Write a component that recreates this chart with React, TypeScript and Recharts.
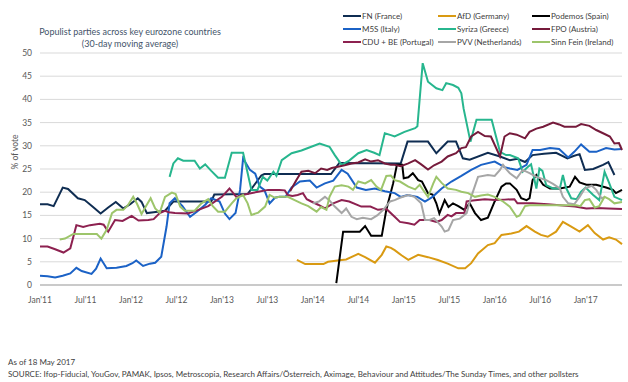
import React from 'react';
import { LineChart, Line, XAxis, YAxis, CartesianGrid } from 'recharts';

type P = [number, number];

// x = months since Jan 2011, y = % of vote
const fnFrance: P[] = [[0,17.4],[1,17.4],[1.8,17],[3,21],[3.7,20.7],[5,18.7],[5.9,18.3],[7,16.8],[8,15.4],[9,16.7],[10,17.9],[11,16.5],[11.9,17.4],[12.9,18.7],[13.4,17.9],[14.1,15.5],[15,15.7],[16.5,16],[17.6,18],[22.6,18],[23,19.5],[27.4,19.6],[29.2,23.6],[29.6,23.9],[38.4,23.9],[39.5,26.3],[47.6,26.2],[48.5,30.9],[51.2,30.9],[52.3,28.4],[53.8,30.9],[54.9,30.9],[55.8,27.3],[56.7,27],[59.1,28.5],[60.7,27.7],[62,26.9],[63,27.2],[64,26.5],[65,28],[66.5,28.3],[68.1,28.5],[69.6,27.3],[70.4,27.8],[71.2,28.2],[71.9,24.8],[73,25],[74.3,25.9],[75,26.5],[75.8,23.7]];
const afdGermany: P[] = [[33.9,5.4],[35,4.5],[37.4,4.5],[38,5],[39.8,5.4],[40.4,5.5],[42,6.7],[42.9,6],[44.2,4.8],[45.1,6.5],[45.7,8.3],[46.3,8],[46.8,7.5],[47.7,6.4],[48.6,5.4],[49.9,6.5],[51.2,6],[52.5,5.4],[53.8,4.6],[55.2,3.6],[56.1,3.6],[56.9,4.7],[57.8,6.8],[59.1,8.6],[60,9],[60.9,10.8],[62.2,11.1],[63.2,11.5],[64.2,12.7],[65.3,11.5],[66.1,10.8],[67,10.4],[68.1,11.5],[69,13.6],[70.1,12.6],[71.2,11.5],[72.3,12.9],[73.2,11.2],[74.3,9.8],[75.1,10.3],[76,9.8],[76.8,8.8]];
const podemosSpain: P[] = [[39.1,0.4],[40,11.5],[42.2,11.5],[42.9,12.7],[43.7,10.6],[45.1,10.6],[45.7,16.2],[46.6,21.9],[47.1,25.9],[47.8,25.9],[48,23],[48.6,23.2],[49.2,24.1],[49.9,22.6],[50.4,22.3],[51.2,19.8],[51.8,19.5],[52.3,17.6],[52.7,15.4],[53.4,18.3],[53.9,16.8],[54.5,17.6],[55.2,17],[56,16.2],[56.7,17.6],[57.4,15.5],[58.2,14],[59.1,14.5],[60,18],[60.9,21.2],[61.5,21.9],[62,21.9],[62.9,20.5],[63.5,18.7],[64.2,18.3],[64.6,18.7],[65,22.6],[65.5,23.7],[66.4,21.6],[67.3,20.8],[68.6,20.8],[69.9,21.2],[70.6,23.3],[71.2,22.1],[72.1,21.6],[73.4,21.6],[74.7,21],[75.6,20.5],[76,19.8],[76.8,20.5]];
const m5sItaly: P[] = [[0,2],[1,1.9],[2,1.6],[3,2],[4,2.5],[4.8,3.7],[5.5,3],[6.8,2.4],[7.4,3.5],[8,5.7],[8.8,3.6],[10.1,3.7],[11.4,4.1],[12.2,4.7],[12.7,5.3],[13.6,4.1],[14.5,4.6],[15.2,4.8],[16,6.1],[16.7,12.6],[17.1,17.6],[17.8,18.7],[18.8,17],[19.8,14.7],[20.7,15.8],[21.8,17.3],[22.6,18.7],[23.7,18],[24.4,15.4],[25,14.2],[25.8,15.5],[26.4,20.5],[26.8,27.3],[27.7,24.8],[28.4,24],[29,21.2],[29.6,20.5],[30.3,17.6],[31,18.8],[31.6,19],[32.4,19],[33.2,21],[34.3,22.3],[35.6,22.5],[36.5,21],[37.6,21.9],[38.7,22.5],[39.8,24.8],[40.6,24],[41.8,21],[43,20.5],[44.2,20.8],[45.5,20.2],[46.8,19.8],[47.6,19],[48.5,19.4],[49.8,19],[50.8,18],[51.8,19],[53,20.8],[54.3,22.3],[55.6,23.5],[56.9,24.8],[58.2,25.9],[60,26.6],[61.3,25.4],[62,25.1],[63,24.8],[64.2,25.9],[65,29.1],[66,29.1],[67.3,29.5],[68.5,29.3],[69.7,27.5],[70.5,28.7],[71.4,30.3],[72.5,28.7],[73.4,28.7],[74.7,29.5],[75.8,29.2],[76.8,29.3]];
const syrizaGreece: P[] = [[17.1,23.3],[17.6,26.2],[18.2,27.3],[18.9,26.8],[20.4,26.8],[21.1,25.1],[21.8,26],[22.6,24.6],[23.5,23.1],[24.4,23.1],[25.3,28.5],[26.8,28.5],[27.9,20.5],[28.7,20.5],[29.4,23.3],[30,22.5],[30.8,24.4],[31.2,23.5],[31.9,26.9],[33.2,28.4],[34.5,29],[35.8,29.8],[36.9,30.5],[38.2,29.8],[38.9,28],[39.8,25.9],[40.8,26.8],[42,28.4],[43.1,29.1],[44.1,28.5],[44.8,28],[45.5,32.7],[46.3,32.3],[46.8,32],[48.1,33],[49.5,33.8],[49.8,34.2],[50.5,47.8],[51.2,43.8],[52.3,42.4],[53.1,42],[53.6,43.5],[54.5,43.1],[55.2,42.5],[55.6,41.3],[55.9,38],[56.8,30.9],[57.6,35.6],[59.6,35.6],[60.7,28.7],[61.5,28],[62,28],[63.1,27.3],[63.7,24.4],[64.4,25.5],[64.8,26],[65.5,20.8],[65.9,25.1],[66.3,24.6],[66.8,21.5],[67.7,20.8],[68.6,20.8],[69,23.7],[69.4,21],[70.1,18.7],[70.8,18.5],[71.4,20.1],[72,21],[73,19.4],[73.8,18.3],[74.5,24.4],[75.1,22],[75.8,19],[76.8,18.3]];
const fpoAustria: P[] = [[33,20.2],[33.8,22.5],[34.5,24.4],[35.4,24.6],[36.3,24.1],[37.1,25.1],[37.9,24.8],[38.5,25.2],[39.3,25.5],[40.2,25.8],[41.1,26.2],[42,26.4],[42.9,27.1],[43.7,26.6],[44.6,26.9],[45.5,26.2],[46.3,25.9],[46.8,25.9],[47.6,25.6],[48.6,26.2],[49.5,26.9],[50.3,26],[51.2,24.9],[52,25.8],[53,26.6],[53.8,27.7],[54.9,28.4],[55.6,29.5],[56.2,29.7],[56.9,32],[57.8,33],[58.7,32.1],[59.5,32],[60.7,27.7],[61.3,32],[62,32.7],[62.9,32.4],[64,31.6],[64.6,33],[65.5,33.7],[66.4,34.1],[67.7,35],[68.5,34.6],[69.2,34.1],[70.7,34.1],[71.4,34.7],[72.5,34.3],[73.4,33.4],[74.3,32.7],[75.2,32],[75.8,30.5],[76.4,30.6],[76.8,29.1]];
const cduBePortugal: P[] = [[0,8.3],[1,8.3],[2,7.7],[3.1,7],[4,7.9],[4.8,12.9],[5.7,12.5],[6.6,12.9],[7.9,13.2],[8.4,13],[9,11.5],[9.9,14],[10.9,13.8],[12.1,14.9],[13,13.9],[14.3,14],[15,14.2],[15.8,15.5],[16.5,16],[17,15.7],[17.8,15.5],[19.5,15.4],[20.9,16.2],[22.2,17],[24,19],[25,20.8],[25.9,19],[27,19.5],[28.8,20.1],[30.1,20.5],[31.6,20.5],[32.3,20.4],[32.7,19.4],[33.3,19.2],[34,19.4],[34.7,19.8],[35.2,18.5],[35.8,18],[36.7,17.3],[37.6,16.5],[38.7,17.6],[39.8,18.3],[40.8,18],[42.4,16.9],[43.6,16.9],[44.6,16.2],[45.7,16.4],[46.8,14.7],[47.5,13.6],[48.6,13.3],[49.4,13],[50.1,14],[51.4,14],[52.3,13.6],[53,14],[53.8,15.1],[54.3,14.8],[54.9,15.5],[56,15.5],[56.3,18],[57.1,18.2],[58.7,18.5],[60,18.3],[61.3,18.4],[62.6,18.5],[63,17.6],[65,17.6],[67,17.4],[68.6,17.2],[70.6,16.9],[72.1,16.5],[73.5,16.6],[75,16.5],[76.8,16.4]];
const pvvNetherlands: P[] = [[36,17.6],[36.8,18],[37.6,19],[38.2,18.2],[38.9,16.9],[39.8,15.5],[40.4,16.5],[41.1,14.7],[41.8,14.2],[42.6,14.5],[43.7,14.2],[44.5,15],[45.3,16.2],[46.2,18],[46.8,18.3],[47.5,18.8],[48.6,19.4],[49.4,19],[50.3,17.6],[50.8,14],[51.4,14],[52,14.4],[53,12.6],[53.4,11.5],[53.9,11.8],[54.5,14],[55.4,14.3],[56.3,15.5],[56.9,19],[57.8,23.3],[59.1,23.7],[60,23.5],[60.7,24.8],[61.1,25.9],[61.6,24.8],[62,24.1],[62.9,23],[63.7,24.8],[64.6,24.1],[65.5,23.3],[66.8,22.6],[67.7,21.8],[68.6,20.8],[69,19],[69.7,17.6],[70.5,17.4],[71.2,19],[71.9,20.8],[72.8,21.4],[73.4,20.5],[74.1,18.7],[74.6,19]];
const sinnFeinIreland: P[] = [[2.6,9.8],[3.3,10],[4.4,11],[6,11],[7.5,11],[8.1,10],[8.8,11.9],[9.5,15.5],[10.1,16.2],[11,16.2],[11.6,17.2],[12.3,19],[12.8,17.5],[13.4,15.3],[14,17],[14.6,18.7],[15.2,16.5],[15.8,15.6],[16.5,19],[17.4,19.9],[17.9,19.6],[18.5,16.9],[19.1,16],[20.4,16],[21.3,17.6],[22.2,18.5],[22.8,17],[23.5,15.8],[24.4,15.8],[25.3,17.6],[25.9,18.7],[26.8,19.4],[27.4,17.6],[27.9,15.1],[28.8,15.6],[29.7,16.9],[30.3,19.4],[31,18.8],[31.6,19],[32.7,19],[33.6,18.3],[34.5,17.6],[35.4,17],[36.5,15.8],[37.1,16.8],[37.8,16.2],[38.2,19],[38.9,21.2],[39.8,21.5],[40.7,21.2],[41.3,20.5],[42,22.3],[42.9,21.9],[43.7,22.6],[44.4,21.2],[45,20.5],[45.7,23.5],[46.3,23.6],[46.8,22.6],[47.5,22.3],[48.6,21.2],[49.5,20.6],[50.1,21.6],[50.5,20.6],[51.2,19],[51.9,21.9],[52.3,23.3],[53,22],[53.8,20.8],[54.9,20.5],[55.6,20.1],[56.5,19.8],[57.4,19],[58.2,19.3],[59.1,19.5],[60,19],[61.1,18],[62,16.9],[62.9,14.7],[63.3,15],[64,17],[64.6,17.2],[70.8,17.2],[71.3,17],[71.9,18.3],[72.5,18.5],[73.2,16.7],[73.8,17],[74.5,19],[75.1,18.5],[75.8,17.6],[76.8,17.9]];

const seriesNames = ['FN (France)', 'AfD (Germany)', 'Podemos (Spain)', 'M5S (Italy)', 'Syriza (Greece)', 'FPO (Austria)', 'CDU + BE (Portugal)', 'PVV (Netherlands)', 'Sinn Fein (Ireland)'];
const seriesData: P[][] = [fnFrance, afdGermany, podemosSpain, m5sItaly, syrizaGreece, fpoAustria, cduBePortugal, pvvNetherlands, sinnFeinIreland];
const seriesColors = ['#0f2d52', '#d99a12', '#000000', '#1b62c6', '#27b68e', '#751a3b', '#8d2150', '#a6a6a6', '#9dc56b'];

const xTicks = [0, 6, 12, 18, 24, 30, 36, 42, 48, 54, 60, 66, 72];
const xTickLabels = ["Jan'11", "Jul'11", "Jan'12", "Jul'12", "Jan'13", "Jul'13", "Jan'14", "Jul'14", "Jan'15", "Jul'15", "Jan'16", "Jul'16", "Jan'17"];
const yTicks = [0, 5, 10, 15, 20, 25, 30, 35, 40, 45, 50];

const FONT = 'Lato, "Noto Sans", sans-serif';

export default function App() {
  const legendCols = [343, 438, 532];
  const legendRows = [16, 29, 42];
  return (
    <div style={{ position: 'absolute', left: 0, top: 0, width: 628, height: 382, background: '#fff', fontFamily: FONT }}>
      <LineChart width={628} height={382} margin={{ top: 53, right: 6, bottom: 67, left: 0 }}>
        <CartesianGrid vertical={false} stroke="#d9d9d9" strokeWidth={1} />
        <XAxis
          type="number"
          dataKey="m"
          domain={[0, 76.5]}
          ticks={xTicks}
          tickFormatter={(v: number) => xTickLabels[xTicks.indexOf(v)] ?? ''}
          tickLine={false}
          tickSize={0}
          tickMargin={12}
          height={30}
          axisLine={{ stroke: '#bfbfbf', strokeWidth: 1.5 }}
          tick={{ fontSize: 8.5, fill: '#595959', fontFamily: FONT }}
          allowDuplicatedCategory={false}
        />
        <YAxis
          type="number"
          domain={[0, 50]}
          ticks={yTicks}
          width={40}
          axisLine={false}
          tickLine={false}
          tickSize={0}
          tickMargin={8}
          tick={{ fontSize: 8.5, fill: '#595959', fontFamily: FONT }}
        />
        {seriesData.map((pts, i) => (
          <Line
            key={seriesNames[i]}
            name={seriesNames[i]}
            data={pts.map(([m, v]) => ({ m, v }))}
            dataKey="v"
            type="linear"
            stroke={seriesColors[i]}
            strokeWidth={2}
            dot={false}
            activeDot={false}
            isAnimationActive={false}
          />
        ))}
      </LineChart>
      <svg width={628} height={382} style={{ position: 'absolute', left: 0, top: 0, pointerEvents: 'none' }}>
        <text x={130} y={35} textAnchor="middle" fontSize={9} fill="#44546a" fontFamily={FONT}>Populist parties across key eurozone countries</text>
        <text x={130} y={47} textAnchor="middle" fontSize={9} fill="#44546a" fontFamily={FONT}>(30-day moving average)</text>
        <text transform="translate(18,152) rotate(-90)" textAnchor="middle" fontSize={8.5} fill="#595959" fontFamily={FONT}>% of vote</text>
        {seriesNames.map((n, i) => {
          const x = legendCols[i % 3];
          const y = legendRows[Math.floor(i / 3)];
          return (
            <g key={n}>
              <line x1={x} x2={x + 18} y1={y} y2={y} stroke={seriesColors[i]} strokeWidth={2} />
              <text x={x + 19} y={y + 3} fontSize={8} fill="#404040" fontFamily={FONT}>{n}</text>
            </g>
          );
        })}
        <text x={8} y={365} fontSize={8} fill="#404040" fontFamily={FONT}>As of 18 May 2017</text>
        <text x={8} y={377} fontSize={8} fill="#404040" fontFamily={FONT}>SOURCE: Ifop-Fiducial, YouGov, PAMAK, Ipsos, Metroscopia, Research Affairs/Österreich, Aximage, Behaviour and Attitudes/The Sunday Times, and other pollsters</text>
      </svg>
    </div>
  );
}
